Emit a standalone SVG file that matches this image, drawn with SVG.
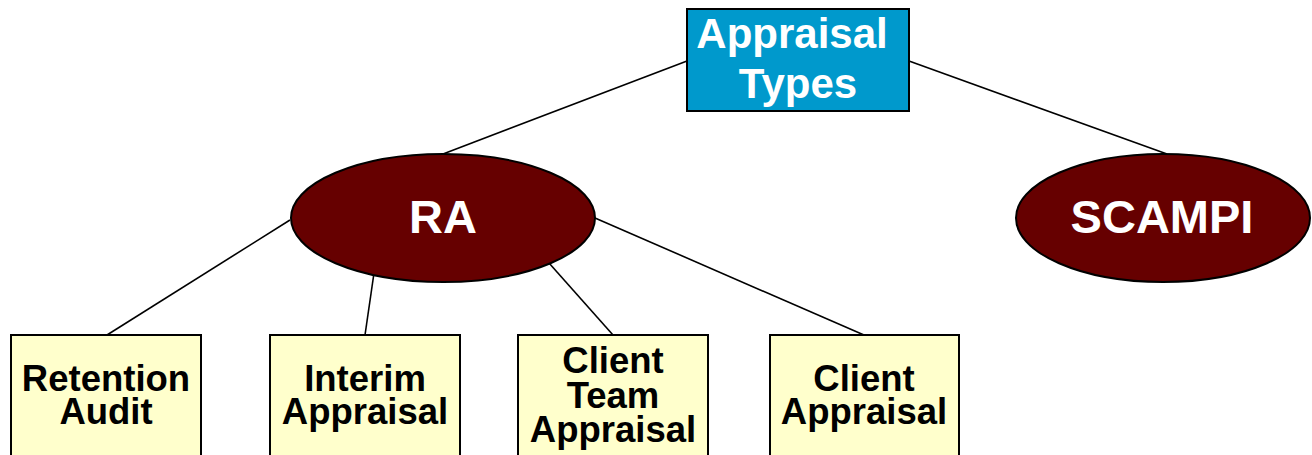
<svg xmlns="http://www.w3.org/2000/svg" width="1312" height="455" viewBox="0 0 1312 455">
  <style>
    .edge { stroke: #000; stroke-width: 1.6; fill: none; }
    .root { fill: #0099CC; stroke: #000; stroke-width: 2; }
    .oval { fill: #660000; stroke: #000; stroke-width: 2; }
    .leaf { fill: #FFFFCC; stroke: #000; stroke-width: 2; }
    .lbl { font-family: "Liberation Sans", Arial, sans-serif; font-weight: bold; text-anchor: middle; }
    .light { fill: #fff; font-size: 42px; }
    .big { font-size: 47px; }
    .dark { fill: #000; font-size: 36.5px; }
  </style>

  <!-- connectors -->
  <g id="connectors">
    <line class="edge" x1="687" y1="61" x2="443" y2="154"/>
    <line class="edge" x1="909" y1="61" x2="1167" y2="154"/>
    <line class="edge" x1="290" y1="220" x2="107" y2="335"/>
    <line class="edge" x1="374" y1="273" x2="365" y2="335"/>
    <line class="edge" x1="549" y1="263" x2="613" y2="335"/>
    <line class="edge" x1="595" y1="218" x2="864" y2="335"/>
  </g>

  <!-- root -->
  <g id="appraisal-types">
    <rect class="root" x="687" y="9" width="222" height="102"/>
    <text class="lbl light" x="792" y="48">Appraisal</text>
    <text class="lbl light" x="798" y="98">Types</text>
  </g>

  <!-- methods -->
  <g id="ra">
    <ellipse class="oval" cx="443" cy="218" rx="152" ry="64"/>
    <text class="lbl light big" x="443" y="233">RA</text>
  </g>
  <g id="scampi">
    <ellipse class="oval" cx="1163" cy="218" rx="147" ry="64"/>
    <text class="lbl light big" x="1162" y="233">SCAMPI</text>
  </g>

  <!-- RA subtypes -->
  <g id="retention-audit">
    <rect class="leaf" x="11" y="335" width="190" height="130"/>
    <text class="lbl dark" x="106" y="391">Retention</text>
    <text class="lbl dark" x="106" y="424">Audit</text>
  </g>
  <g id="interim-appraisal">
    <rect class="leaf" x="270" y="335" width="190" height="130"/>
    <text class="lbl dark" x="365" y="391">Interim</text>
    <text class="lbl dark" x="365" y="424">Appraisal</text>
  </g>
  <g id="client-team-appraisal">
    <rect class="leaf" x="518" y="335" width="190" height="130"/>
    <text class="lbl dark" x="613" y="373">Client</text>
    <text class="lbl dark" x="613" y="408">Team</text>
    <text class="lbl dark" x="613" y="442">Appraisal</text>
  </g>
  <g id="client-appraisal">
    <rect class="leaf" x="770" y="335" width="189" height="130"/>
    <text class="lbl dark" x="864" y="391">Client</text>
    <text class="lbl dark" x="864" y="424">Appraisal</text>
  </g>
</svg>
